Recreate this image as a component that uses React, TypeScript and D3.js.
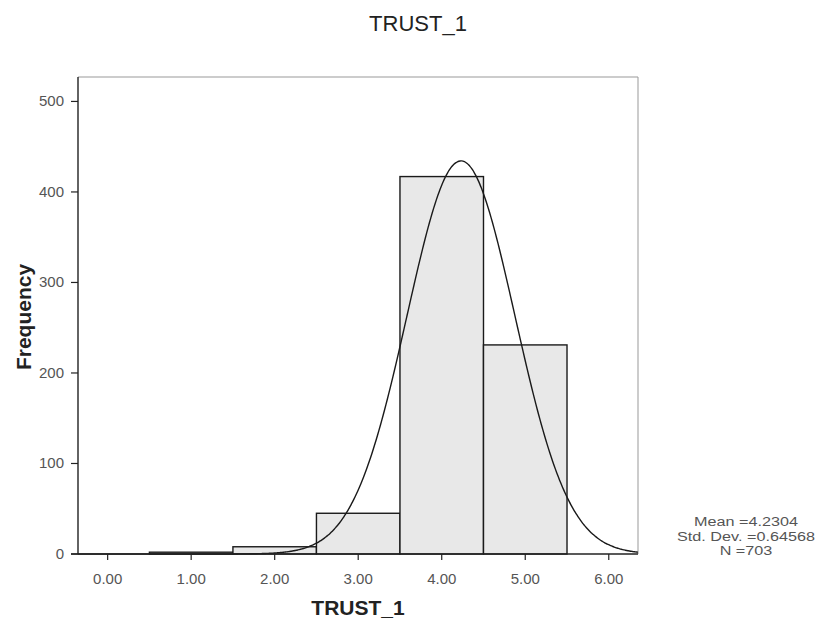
import React from "react";
import * as d3 from "d3";

const binCenters = [1, 2, 3, 4, 5];
const frequencies = [2, 8, 45, 417, 231];
const xTicks = [0, 1, 2, 3, 4, 5, 6];
const yTicks = [0, 100, 200, 300, 400, 500];
const mean = 4.2304;
const stdDev = 0.64568;
const nTotal = 703;
const statLines = ["Mean =4.2304", "Std. Dev. =0.64568", "N =703"];

const W = 824;
const H = 625;
const left = 78, right = 638, top = 77, bottom = 554;

export default function App() {
  const x = d3.scaleLinear().domain([-0.355, 6.35]).range([left, right]);
  const y = d3.scaleLinear().domain([0, 527]).range([bottom, top]);
  const binW = 1;
  const peak = nTotal * binW / (stdDev * Math.sqrt(2 * Math.PI));
  const curvePts = d3.range(0, 401).map((i) => {
    const v = -0.355 + (6.35 + 0.355) * (i / 400);
    return [v, peak * Math.exp(-0.5 * ((v - mean) / stdDev) ** 2)] as [number, number];
  });
  const line = d3.line<[number, number]>().x((d) => x(d[0])).y((d) => y(d[1])).curve(d3.curveBasis);
  const font = "Arial, 'Liberation Sans', Helvetica, sans-serif";
  return (
    <svg width={W} height={H} style={{ position: "absolute", left: 0, top: 0, background: "#fff" }} fontFamily={font}>
      <text x={418} y={31} textAnchor="middle" fontSize={22} fill="#222">TRUST_1</text>
      {/* frame */}
      <line x1={left} x2={right} y1={top} y2={top} stroke="#999" strokeWidth={1} />
      <line x1={right} x2={right} y1={top} y2={bottom} stroke="#999" strokeWidth={1} />
      {/* bars */}
      {binCenters.map((c, i) => (
        <rect key={c} x={x(c - binW / 2)} y={y(frequencies[i])} width={x(c + binW / 2) - x(c - binW / 2)}
          height={y(0) - y(frequencies[i])} fill="#e8e8e8" stroke="#1a1a1a" strokeWidth={1.4} />
      ))}
      <path d={line(curvePts) || ""} fill="none" stroke="#1a1a1a" strokeWidth={1.4} />
      {/* axes */}
      <line x1={left} x2={left} y1={top} y2={bottom} stroke="#222" strokeWidth={1.4} />
      <line x1={left - 7} x2={right} y1={bottom} y2={bottom} stroke="#222" strokeWidth={1.4} />
      {yTicks.map((t) => (
        <g key={t}>
          <line x1={left - 7} x2={left} y1={y(t)} y2={y(t)} stroke="#222" strokeWidth={1.2} />
          <text x={left - 14} y={y(t) + 5} textAnchor="end" fontSize={15} fill="#555">{t}</text>
        </g>
      ))}
      {xTicks.map((t) => (
        <g key={t}>
          <line x1={x(t)} x2={x(t)} y1={bottom} y2={bottom + 6} stroke="#222" strokeWidth={1.2} />
          <text x={x(t)} y={bottom + 30} textAnchor="middle" fontSize={15} fill="#555">{t.toFixed(2)}</text>
        </g>
      ))}
      <text x={358} y={615} textAnchor="middle" fontSize={21} fontWeight="bold" fill="#222">TRUST_1</text>
      <text transform={`translate(31,317) rotate(-90)`} textAnchor="middle" fontSize={21} fontWeight="bold" fill="#222">Frequency</text>
      {statLines.map((s, i) => (
        <text key={s} transform={`translate(746,${526 + i * 14.5}) scale(1.2,1)`} textAnchor="middle" fontSize={13.5} fill="#555">{s}</text>
      ))}
    </svg>
  );
}
